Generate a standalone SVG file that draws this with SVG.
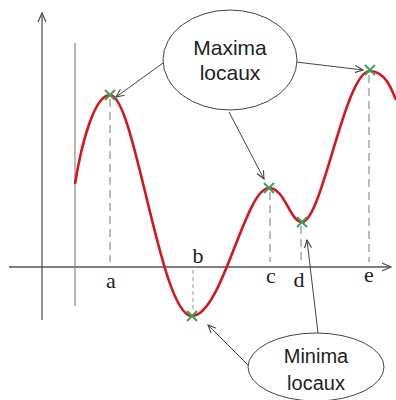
<svg xmlns="http://www.w3.org/2000/svg" width="396" height="400" viewBox="0 0 396 400">
<defs>
<marker id="open" viewBox="0 0 10 10" refX="9" refY="5" markerWidth="9" markerHeight="9" orient="auto" markerUnits="userSpaceOnUse">
<path d="M0,1 L9,5 L0,9" fill="none" stroke="#444" stroke-width="1.2"/>
</marker>
<marker id="axarr" viewBox="0 0 10 10" refX="9" refY="5" markerWidth="10" markerHeight="10" orient="auto" markerUnits="userSpaceOnUse">
<path d="M0,1 L9,5 L0,9" fill="none" stroke="#555" stroke-width="1.3"/>
</marker>
</defs>
<style>
.axis{stroke:#555;stroke-width:1.3;fill:none}
.guide{stroke:#888;stroke-width:1.2;fill:none}
.dash{stroke:#999;stroke-width:1.3;stroke-dasharray:8 5;fill:none}
.curve{stroke:#d9141c;stroke-width:2.6;fill:none}
.mark{stroke:#3aa35a;stroke-width:2;fill:none}
.conn{stroke:#444;stroke-width:1;fill:none;marker-end:url(#open)}
.bubble{fill:#fff;stroke:#444;stroke-width:1}
.btxt{font-family:"Liberation Sans",Arial,sans-serif;fill:#222;text-anchor:middle}
.lbl{font-family:"Liberation Serif","Times New Roman",serif;font-size:22px;fill:#222;text-anchor:middle}
</style>
<rect width="396" height="400" fill="#fff"/>
<g id="axes">
<line class="axis" x1="42" y1="320" x2="42" y2="13" marker-end="url(#axarr)"/>
<line class="axis" x1="9" y1="267" x2="391" y2="267" marker-end="url(#axarr)"/>
<line class="guide" x1="75" y1="43" x2="75" y2="306"/>
</g>
<g id="guides">
<line class="dash" x1="110" y1="99" x2="110" y2="262"/>
<line class="dash" x1="193" y1="270" x2="193" y2="312" style="stroke-dasharray:4 3;stroke-width:1"/>
<line class="dash" x1="270" y1="192" x2="270" y2="262"/>
<line class="dash" x1="301" y1="226" x2="301" y2="265"/>
<line class="dash" x1="369" y1="75" x2="369" y2="262"/>
</g>
<g id="curve">
<path class="curve" d="M75,184 C82,140 95,95 110,95 C135,95 160,316 192,316 C222,316 245,188 269,188 C285,188 290,222 302,222 C322,222 345,71 370,71 C385,71 392,90 396,100"/>
</g>
<g id="markers">
<path class="mark" d="M105,90 L115,100 M115,90 L105,100"/>
<path class="mark" d="M187,311 L197,321 M197,311 L187,321"/>
<path class="mark" d="M264,183 L274,193 M274,183 L264,193"/>
<path class="mark" d="M297,217 L307,227 M307,217 L297,227"/>
<path class="mark" d="M365,65 L375,75 M375,65 L365,75"/>
</g>
<g id="labels">
<text class="lbl" x="111" y="288">a</text>
<text class="lbl" x="198" y="263">b</text>
<text class="lbl" x="271" y="283">c</text>
<text class="lbl" x="299" y="287">d</text>
<text class="lbl" x="369" y="282">e</text>
</g>
<g id="connectors">
<line class="conn" x1="163" y1="63" x2="116" y2="97"/>
<line class="conn" x1="296" y1="62" x2="363" y2="70"/>
<line class="conn" x1="229" y1="112" x2="264" y2="179"/>
<line class="conn" x1="250" y1="367" x2="208" y2="325"/>
<line class="conn" x1="318" y1="333" x2="307" y2="240"/>
</g>
<g id="maxima">
<ellipse class="bubble" cx="230" cy="60" rx="67" ry="50"/>
<text class="btxt" x="230" y="55" font-size="21">Maxima</text>
<text class="btxt" x="230" y="80" font-size="21">locaux</text>
</g>
<g id="minima">
<ellipse class="bubble" cx="316" cy="367" rx="68" ry="34"/>
<text class="btxt" x="316" y="363" font-size="20">Minima</text>
<text class="btxt" x="316" y="390" font-size="20">locaux</text>
</g>
</svg>
